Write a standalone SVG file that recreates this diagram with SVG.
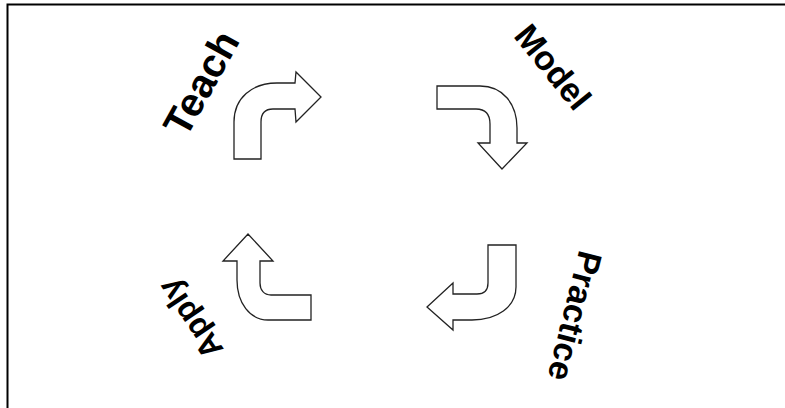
<svg xmlns="http://www.w3.org/2000/svg" width="785" height="408" viewBox="0 0 785 408">
<style>
.arrow{fill:#fff;stroke:#222;stroke-width:1.3;stroke-linejoin:miter}
.lbl{font-family:"Liberation Sans",Arial,sans-serif;font-weight:bold;fill:#000;text-anchor:middle}
</style>
<rect width="785" height="408" fill="#fff"/>
<path d="M7.5,408 V4.5 H785" fill="none" stroke="#000" stroke-width="2"/>
<g id="teach">
<path class="arrow" d="M234,159 L234,122 C234,98 252,83 277,83 L295,83 L296,72 L321,97 L296,122 L295,109 L273,109 C265,109 261,114 261,122 L261,159 Z"/>
<text class="lbl" font-size="40" dy="0.35em" transform="translate(201,83) rotate(-61)">Teach</text>
</g>
<g id="model">
<path class="arrow" d="M437,86 L480,86 C503,86 517,104 517,128 L517,143 L527,143 L502,169 L478,143 L490,143 L490,124 C490,114 485,109 476,109 L437,109 Z"/>
<text class="lbl" font-size="34" dy="0.35em" transform="translate(553,67) rotate(51)">Model</text>
</g>
<g id="practice">
<path class="arrow" d="M488,245 L516,245 L516,287 C516,307 497,320 472,320 L453,320 L453,330 L427,307 L453,283 L453,294 L477,294 C484,294 488,290 488,283 Z"/>
<text class="lbl" font-size="34" dy="0.35em" transform="translate(575,316) rotate(104)">Practice</text>
</g>
<g id="apply">
<path class="arrow" d="M237,261 L237,280 C237,303 250,320 268,320 L311,320 L311,295 L271,295 C264,295 260,290 260,283 L260,261 L273,261 L248,234 L223,261 Z"/>
<text class="lbl" font-size="32" dy="0.35em" transform="translate(190,319) rotate(-124)">Apply</text>
</g>
<g id="connectors"></g>
</svg>
